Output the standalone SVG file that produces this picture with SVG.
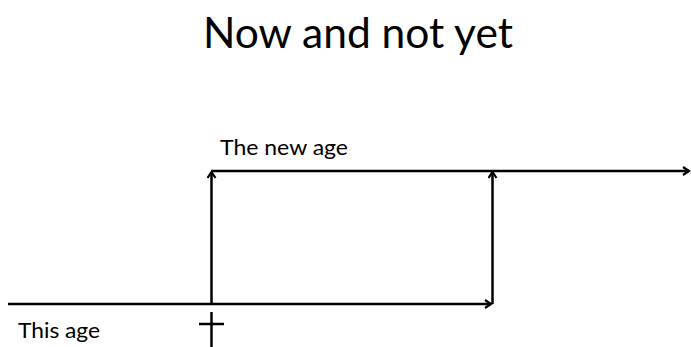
<svg xmlns="http://www.w3.org/2000/svg" width="691" height="347" viewBox="0 0 691 347">
<style>
.ln{stroke:#000;stroke-width:2.5;fill:none}
.t{font-family:Lato,"Open Sans","Liberation Sans",sans-serif;fill:#000}
</style>
<defs>
<marker id="ah" markerWidth="10" markerHeight="10" refX="7" refY="5" orient="auto" markerUnits="userSpaceOnUse">
<path d="M1,1 L7,5 L1,9" fill="none" stroke="#000" stroke-width="2.2"/>
</marker>
</defs>
<rect width="691" height="347" fill="#fff"/>
<text class="t" x="203" y="48" font-size="42" textLength="310" lengthAdjust="spacingAndGlyphs">Now and not yet</text>
<g id="labels">
<text class="t" x="220" y="155" font-size="22" textLength="128" lengthAdjust="spacingAndGlyphs">The new age</text>
<text class="t" x="18" y="338" font-size="21" textLength="82" lengthAdjust="spacingAndGlyphs">This age</text>
</g>
<g id="connectors">
<line class="ln" x1="8" y1="304" x2="491" y2="304" marker-end="url(#ah)"/>
<line class="ln" x1="211.5" y1="304" x2="211.5" y2="172" marker-end="url(#ah)"/>
<line class="ln" x1="211" y1="171" x2="689" y2="171" marker-end="url(#ah)"/>
<line class="ln" x1="492.5" y1="304" x2="492.5" y2="172" marker-end="url(#ah)"/>
</g>
<g id="cross">
<line class="ln" x1="211.5" y1="312" x2="211.5" y2="347"/>
<line class="ln" x1="199" y1="324" x2="224" y2="324"/>
</g>
</svg>
